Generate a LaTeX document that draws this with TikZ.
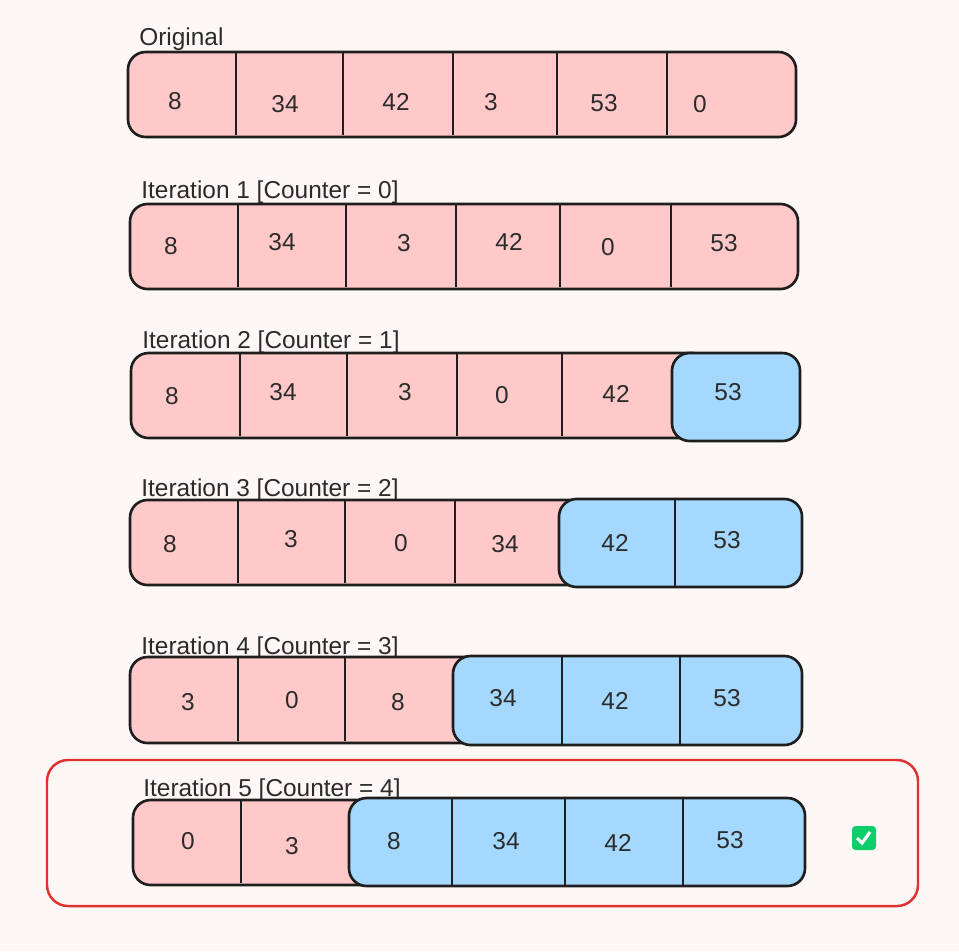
\documentclass[tikz,border=0pt]{standalone}
\usepackage{fontspec}
\setmainfont{Liberation Sans}
\usetikzlibrary{calc,positioning}

\definecolor{bgcol}{HTML}{FDF8F5}
\definecolor{cellpink}{HTML}{FFC9C9}
\definecolor{cellblue}{HTML}{A5D8FF}
\definecolor{inkcol}{HTML}{1E1E1E}
\definecolor{textcol}{HTML}{2B2B2B}
\definecolor{framered}{HTML}{E03131}
\definecolor{okgreen}{HTML}{0CCE6B}

\tikzset{
    unsorted/.style={draw=inkcol, fill=cellpink, line width=1.5pt, rounded corners=10pt},
    sorted/.style={draw=inkcol, fill=cellblue, line width=1.5pt, rounded corners=10pt},
    sep/.style={draw=inkcol, line width=1.5pt},
    val/.style={text=textcol, font=\fontsize{13.9}{16}\selectfont, inner sep=0pt},
    caption/.style={val, anchor=base west},
}

\begin{document}
\begin{tikzpicture}[x=0.02cm, y=-0.02cm]
    \fill[bgcol] (0,0) rectangle (959,951);
    \useasboundingbox (0,0) rectangle (959,951);

    % original
    \node[caption] (lbl0) at (139,45) {Original};
    \draw[unsorted] (128,52) rectangle (796,137);
    \foreach \x in {236,343,453,557,667} \draw[sep] (\x,52) -- (\x,135);
    \foreach \x/\y/\v [count=\i] in {175/101/8, 285/104/34, 396/102/42, 491/102/3, 604/103/53, 700/104/0}
        \node[val] (a\i) at (\x,\y) {\v};

    % iteration 1
    \node[caption] (lbl1) at (141,198) {Iteration 1 [Counter = 0]};
    \draw[unsorted] (130,204) rectangle (798,289);
    \foreach \x in {238,346,456,560,671} \draw[sep] (\x,204) -- (\x,287);
    \foreach \x/\y/\v [count=\i] in {171/246/8, 282/242/34, 404/243/3, 509/242/42, 608/247/0, 724/243/53}
        \node[val] (b\i) at (\x,\y) {\v};

    % iteration 2
    \node[caption] (lbl2) at (142,348) {Iteration 2 [Counter = 1]};
    \draw[unsorted] (131,353) rectangle (710,438);
    \foreach \x in {240,347,457,562} \draw[sep] (\x,353) -- (\x,436);
    \draw[sorted] (672,353) rectangle (800,441);
    \foreach \x/\y/\v [count=\i] in {172/396/8, 283/392/34, 405/392/3, 502/395/0, 616/394/42, 728/392/53}
        \node[val] (c\i) at (\x,\y) {\v};

    % iteration 3
    \node[caption] (lbl3) at (141,496) {Iteration 3 [Counter = 2]};
    \draw[unsorted] (130,500) rectangle (600,585);
    \foreach \x in {238,345,455} \draw[sep] (\x,500) -- (\x,583);
    \draw[sorted] (559,499) rectangle (802,587);
    \draw[sep] (675,499) -- (675,587);
    \foreach \x/\y/\v [count=\i] in {170/544/8, 291/539/3, 401/543/0, 505/544/34, 615/543/42, 727/540/53}
        \node[val] (d\i) at (\x,\y) {\v};

    % iteration 4
    \node[caption] (lbl4) at (141,654) {Iteration 4 [Counter = 3]};
    \draw[unsorted] (130,657) rectangle (495,743);
    \foreach \x in {238,345} \draw[sep] (\x,657) -- (\x,741);
    \draw[sorted] (453,656) rectangle (802,745);
    \foreach \x in {562,680} \draw[sep] (\x,656) -- (\x,745);
    \foreach \x/\y/\v [count=\i] in {188/702/3, 292/700/0, 398/702/8, 503/698/34, 615/701/42, 727/698/53}
        \node[val] (e\i) at (\x,\y) {\v};

    % iteration 5
    \draw[framered, line width=1.4pt, rounded corners=12pt] (47,760) rectangle (918,906);
    \node[caption] (lbl5) at (143,796) {Iteration 5 [Counter = 4]};
    \draw[unsorted] (133,800) rectangle (390,885);
    \draw[sep] (241,800) -- (241,883);
    \draw[sorted] (349,798) rectangle (805,886);
    \foreach \x in {452,565,683} \draw[sep] (\x,798) -- (\x,886);
    \foreach \x/\y/\v [count=\i] in {188/841/0, 292/846/3, 394/841/8, 506/841/34, 618/843/42, 730/840/53}
        \node[val] (f\i) at (\x,\y) {\v};

    % done
    \fill[okgreen, rounded corners=2pt] (852,826) rectangle (876,850);
    \draw[white, line width=1.8pt] (857,838) -- (862,843) -- (870,832);
\end{tikzpicture}
\end{document}
